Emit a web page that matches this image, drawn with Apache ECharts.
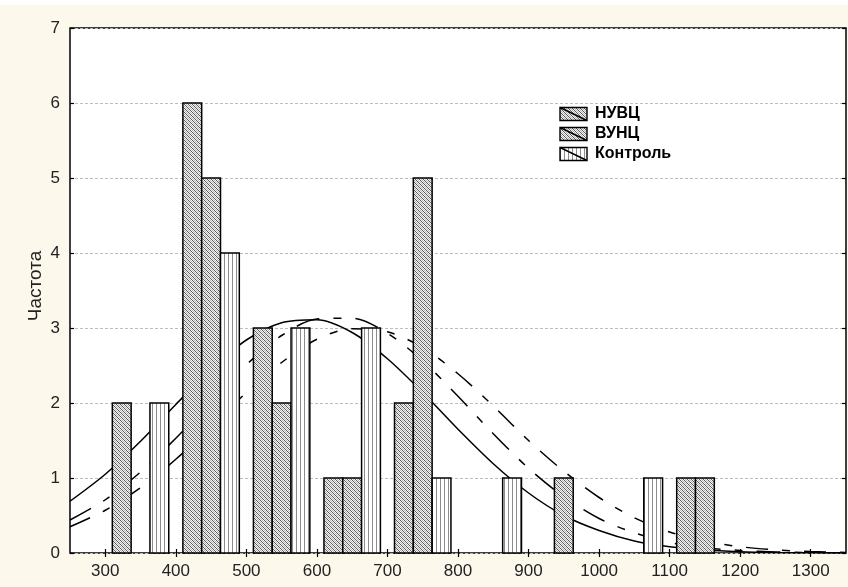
<!DOCTYPE html>
<html>
<head>
<meta charset="utf-8">
<script src="https://cdn.jsdelivr.net/npm/echarts@6/dist/echarts.min.js"></script>
<style>
html,body{margin:0;padding:0;background:#FDF8EC;}
#chart{width:848px;height:587px;}
</style>
</head>
<body>
<div id="chart"></div>
<script>
// ---- data ----
const seriesNames = ['НУВЦ', 'ВУНЦ', 'Контроль'];
const binStarts = [300, 400, 500, 600, 700, 800, 900, 1000, 1100];
const countsNUVC = [2, 6, 3, 1, 2, 0, 0, 0, 1];
const countsVUNC = [0, 5, 2, 1, 5, 0, 1, 0, 1];
const countsControl = [2, 4, 3, 3, 1, 1, 0, 1, 0];

const curveX = [250, 300, 350, 400, 450, 500, 550, 600, 650, 700, 750, 800, 850, 900, 950, 1000, 1050, 1100, 1150, 1200, 1250, 1300, 1350];
const curveNUVC = [0.44, 0.71, 1.08, 1.53, 2.03, 2.51, 2.90, 3.12, 3.13, 2.93, 2.56, 2.09, 1.59, 1.13, 0.75, 0.46, 0.27, 0.14, 0.07, 0.034, 0.015, 0.006, 0.002];
const curveVUNC = [0.35, 0.57, 0.87, 1.25, 1.68, 2.14, 2.54, 2.85, 2.99, 2.95, 2.74, 2.39, 1.96, 1.50, 1.09, 0.74, 0.47, 0.28, 0.16, 0.084, 0.042, 0.019, 0.008];
const curveControl = [0.69, 1.05, 1.49, 1.98, 2.45, 2.84, 3.07, 3.11, 2.94, 2.59, 2.14, 1.65, 1.19, 0.80, 0.50, 0.30, 0.16, 0.083, 0.04, 0.018, 0.0075, 0.003, 0.001];

const xTicks = [300, 400, 500, 600, 700, 800, 900, 1000, 1100, 1200, 1300];
const xMin = 250, xMax = 1350, yMin = 0, yMax = 7;
const axisTitleY = 'Частота';

// ---- patterns ----
function hatchPattern() {
  const c = document.createElement('canvas');
  c.width = 4; c.height = 4;
  const g = c.getContext('2d');
  g.fillStyle = '#f4f4f4'; g.fillRect(0, 0, 4, 4);
  for (let i = 0; i < 4; i++) {
    g.fillStyle = '#5a5a5a'; g.fillRect(i, i, 1, 1);
    g.fillStyle = '#b4b4b4'; g.fillRect((i + 2) % 4, i, 1, 1);
  }
  return { image: c, repeat: 'repeat' };
}
function stripePattern() {
  const c = document.createElement('canvas');
  c.width = 4; c.height = 2;
  const g = c.getContext('2d');
  g.fillStyle = '#ffffff'; g.fillRect(0, 0, 4, 2);
  g.fillStyle = '#8c8c8c'; g.fillRect(0, 0, 1, 2);
  return { image: c, repeat: 'repeat' };
}
const fills = [hatchPattern(), hatchPattern(), stripePattern()];

const FONT = 'Arial, "Liberation Sans", sans-serif';
const counts = [countsNUVC, countsVUNC, countsControl];
const curves = [curveNUVC, curveVUNC, curveControl];
const slotOffset = 10, slotWidth = 80 / 3;

function barSeries(idx) {
  const data = [];
  binStarts.forEach((b, i) => { if (counts[idx][i] > 0) data.push([b, counts[idx][i]]); });
  return {
    type: 'custom',
    name: seriesNames[idx],
    z: 5,
    data: data,
    renderItem: function (params, api) {
      const s = api.value(0) + slotOffset + idx * slotWidth;
      const p0 = api.coord([s, api.value(1)]);
      const p1 = api.coord([s + slotWidth, 0]);
      return {
        type: 'rect',
        shape: { x: p0[0], y: p0[1], width: p1[0] - p0[0], height: p1[1] - p0[1] },
        style: { fill: fills[idx], stroke: '#000', lineWidth: 1.5 }
      };
    }
  };
}
const dashStyles = [[24, 14, 8, 14], [22, 14, 8, 14], 'solid'];
function lineSeries(idx) {
  return {
    type: 'line',
    name: seriesNames[idx] + ' fit',
    z: 3,
    smooth: 0.3,
    symbol: 'none',
    data: curveX.map((x, i) => [x, curves[idx][i]]),
    lineStyle: { color: '#000', width: 1.5, type: dashStyles[idx] }
  };
}

// legend graphic
const legendItems = [];
const legX = 560, legY0 = 114, legStep = 20, boxW = 27, boxH = 13;
seriesNames.forEach((n, i) => {
  const cy = legY0 + i * legStep;
  legendItems.push({ type: 'rect', shape: { x: legX, y: cy - boxH / 2, width: boxW, height: boxH }, style: { fill: fills[i], stroke: '#000', lineWidth: 1.4 } });
  legendItems.push({ type: 'line', shape: { x1: legX, y1: cy - boxH / 2, x2: legX + boxW, y2: cy + boxH / 2 }, style: { stroke: '#000', lineWidth: 1.4 } });
  legendItems.push({ type: 'text', x: legX + 35, y: cy, style: { text: n, font: 'bold 16px ' + FONT, fill: '#000', textVerticalAlign: 'middle', textAlign: 'left' } });
});

const chart = echarts.init(document.getElementById('chart'), null, { renderer: 'canvas' });
chart.setOption({
  animation: false,
  backgroundColor: '#FDF8EC',
  grid: { left: 70, right: 2, top: 28, bottom: 34, show: true, backgroundColor: '#ffffff', borderColor: '#000', borderWidth: 1.5 },
  xAxis: [
    { type: 'value', position: 'bottom', min: xMin, max: xMax,
      axisLine: { show: false },
      axisTick: { show: true, inside: true, length: 4, customValues: xTicks, lineStyle: { color: '#000', width: 1.2 } },
      axisLabel: { show: true, customValues: xTicks, margin: 10, fontSize: 17, color: '#222', fontFamily: FONT,
        formatter: v => String(v) },
      splitLine: { show: false } },
    { type: 'value', position: 'top', min: xMin, max: xMax,
      axisLine: { show: false },
      axisTick: { show: true, inside: true, length: 4, customValues: xTicks, lineStyle: { color: '#000', width: 1.2 } },
      axisLabel: { show: false }, splitLine: { show: false } }
  ],
  yAxis: [
    { type: 'value', position: 'left', min: yMin, max: yMax, interval: 1,
      axisLine: { show: false },
      axisTick: { show: true, inside: true, length: 4, lineStyle: { color: '#000', width: 1.2 } },
      axisLabel: { margin: 10, fontSize: 17, color: '#222', fontFamily: FONT },
      splitLine: { show: true, lineStyle: { color: '#bdbdbd', width: 1, type: [3, 2] } } },
    { type: 'value', position: 'right', min: yMin, max: yMax, interval: 1,
      axisLine: { show: false },
      axisTick: { show: true, inside: true, length: 4, lineStyle: { color: '#000', width: 1.2 } },
      axisLabel: { show: false }, splitLine: { show: false } }
  ],
  graphic: [
    { type: 'rect', left: 0, top: 0, z: 100, shape: { width: 848, height: 5 }, style: { fill: '#ffffff' } },
    { type: 'text', x: 36, y: 286, rotation: Math.PI / 2, z: 100,
      style: { text: axisTitleY, font: '19px ' + FONT, fill: '#222', textAlign: 'center', textVerticalAlign: 'middle' } },
    { type: 'group', z: 100, children: legendItems }
  ],
  series: [lineSeries(0), lineSeries(1), lineSeries(2), barSeries(0), barSeries(1), barSeries(2)]
});
</script>
</body>
</html>
